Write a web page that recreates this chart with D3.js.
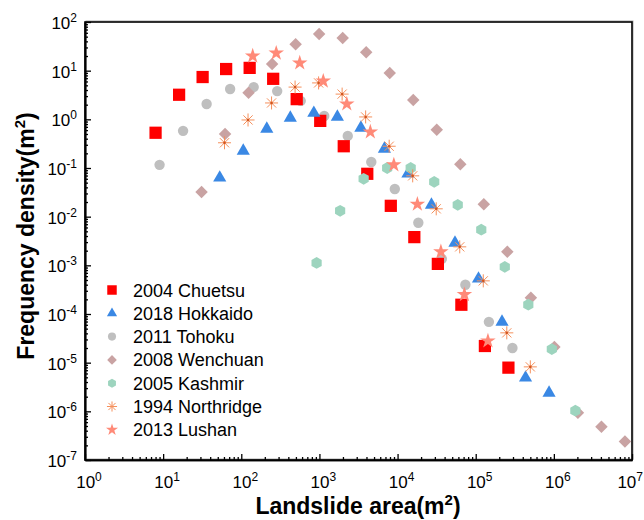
<!DOCTYPE html>
<html>
<head>
<meta charset="utf-8">
<script src="https://cdn.jsdelivr.net/npm/d3@7"></script>
<style>
  body { margin: 0; background: #fff; }
  text { font-family: "Liberation Sans", Arial, sans-serif; }
</style>
</head>
<body>
<div id="container"></div>
<script>
/* CONSTANTS AND GLOBALS */
const width = 644, height = 520
const margin = { left: 85, right: 12, top: 22, bottom: 60 }

/* DATA */
const chuetsuX = [8, 16, 32, 64, 128, 256, 512, 1024, 2048, 4096, 8192, 16384, 32768, 65536, 131072, 262144]
const chuetsuY = [0.53, 3.2, 7.4, 10.8, 11.4, 6.8, 2.6, 0.93, 0.28, 0.076, 0.0167, 0.0038, 0.00107, 1.55e-4, 2.2e-5, 7.9e-6]

const hokkaidoX = [53, 106, 212, 424, 848, 1696, 3392, 6784, 13568, 27136, 54272, 108544, 217088, 434176, 868352]
const hokkaidoY = [0.063, 0.224, 0.635, 1.07, 1.35, 1.12, 0.665, 0.247, 0.076, 0.0175, 0.0029, 5.3e-4, 6.9e-5, 4.9e-6, 2.4e-6]

const tohokuX = [9, 18, 36, 72, 144, 288, 576, 1152, 2304, 4608, 9216, 18432, 36864, 73728, 147456, 294912]
const tohokuY = [0.116, 0.58, 2.07, 4.2, 4.6, 3.8, 2.4, 1.17, 0.456, 0.133, 0.037, 0.0075, 0.00136, 4.0e-4, 6.9e-5, 2.0e-5]

const wenchuanX = [31, 62, 124, 248, 496, 992, 1984, 3968, 7936, 15872, 31744, 63488, 126976, 253952, 507904, 1015808, 2031616, 4063232, 8126464]
const wenchuanY = [0.032, 0.50, 3.5, 13.7, 35, 57, 47, 24, 9.0, 2.5, 0.61, 0.12, 0.018, 0.0019, 2.15e-4, 2.1e-5, 9.4e-7, 4.8e-7, 2.4e-7]

const kashmirX = [920, 1840, 3680, 7360, 14720, 29440, 58880, 117760, 235520, 471040, 942080, 1884160]
const kashmirY = [0.00112, 0.0132, 0.060, 0.100, 0.100, 0.052, 0.0175, 0.0054, 9.3e-4, 1.55e-4, 1.9e-5, 1.03e-6]

const northridgeX = [61, 122, 244, 488, 976, 1952, 3904, 7808, 15616, 31232, 62464, 124928, 249856, 499712]
const northridgeY = [0.33, 0.97, 2.17, 4.6, 5.6, 3.3, 1.12, 0.28, 0.069, 0.0145, 0.0024, 4.8e-4, 4.1e-5, 8.2e-6]

const lushanX = [140, 280, 560, 1120, 2240, 4480, 8960, 17920, 35840, 71680, 143360]
const lushanY = [20, 23, 14.4, 6.1, 2.07, 0.55, 0.116, 0.018, 0.0019, 2.5e-4, 2.8e-5]

const xExponents = [0, 1, 2, 3, 4, 5, 6, 7]
const yExponents = [-7, -6, -5, -4, -3, -2, -1, 0, 1, 2]

/* CUSTOM SYMBOLS */
const symbolHexagon = {
  draw(ctx, size) {
    const r = Math.sqrt(size / (1.5 * Math.sqrt(3)))
    for (let i = 0; i < 6; i++) {
      const a = Math.PI / 6 + i * Math.PI / 3
      if (i === 0) ctx.moveTo(r * Math.cos(a), r * Math.sin(a))
      else ctx.lineTo(r * Math.cos(a), r * Math.sin(a))
    }
    ctx.closePath()
  }
}
const symbolBurst = {
  draw(ctx, size) {
    const r = Math.sqrt(size) / 2
    for (let i = 0; i < 4; i++) {
      const a = i * Math.PI / 4
      ctx.moveTo(-r * Math.cos(a), -r * Math.sin(a))
      ctx.lineTo(r * Math.cos(a), r * Math.sin(a))
    }
  }
}

// one entry per series, in drawing order
const series = [
  { name: "2011 Tohoku", xs: tohokuX, ys: tohokuY, type: d3.symbolCircle, size: 85, fill: "#bfbfbf", order: 2 },
  { name: "2008 Wenchuan", xs: wenchuanX, ys: wenchuanY, type: d3.symbolSquare, size: 78, fill: "#c9a3a3", rotate: 45, order: 3 },
  { name: "2004 Chuetsu", xs: chuetsuX, ys: chuetsuY, type: d3.symbolSquare, size: 150, fill: "#ff0000", order: 0 },
  { name: "2018 Hokkaido", xs: hokkaidoX, ys: hokkaidoY, type: d3.symbolTriangle, size: 75, fill: "#3a88e4", order: 1 },
  { name: "2005 Kashmir", xs: kashmirX, ys: kashmirY, type: symbolHexagon, size: 90, fill: "#9dd4be", order: 4 },
  { name: "1994 Northridge", xs: northridgeX, ys: northridgeY, type: symbolBurst, size: 170, stroke: "#f5905c", order: 5 },
  { name: "2013 Lushan", xs: lushanX, ys: lushanY, type: d3.symbolStar, size: 75, fill: "#ff8a78", order: 6 }
]

/* SCALES */
const xScale = d3.scaleLog()
  .domain([1, 1e7])
  .range([margin.left, width - margin.right])

const yScale = d3.scaleLog()
  .domain([1e-7, 1e2])
  .range([height - margin.bottom, margin.top])

/* SVG */
const svg = d3.select("#container")
  .append("svg")
  .attr("width", width)
  .attr("height", height)

// plot frame (with the faint shadow on the right / top)
svg.append("rect")
  .attr("x", margin.left + 1)
  .attr("y", margin.top - 1)
  .attr("width", width - margin.right - margin.left)
  .attr("height", height - margin.bottom - margin.top)
  .attr("fill", "none")
  .attr("stroke", "#aaa")
  .attr("stroke-width", 1)
svg.append("rect")
  .attr("x", margin.left)
  .attr("y", margin.top)
  .attr("width", width - margin.right - margin.left)
  .attr("height", height - margin.bottom - margin.top)
  .attr("fill", "none")
  .attr("stroke", "#000")
  .attr("stroke-width", 1.6)

/* AXES: minor + major ticks, pointing inwards */
const xMajor = xExponents.map(e => Math.pow(10, e))
const yMajor = yExponents.map(e => Math.pow(10, e))
const xMinor = xScale.ticks().filter(v => !xMajor.includes(v))
const yMinor = yScale.ticks().filter(v => !yMajor.some(m => Math.abs(m - v) / m < 1e-9))

function styleAxis(g) {
  g.select(".domain").attr("stroke", "#000").attr("stroke-width", 1.6)
  g.selectAll(".tick line").attr("stroke", "#000").attr("stroke-width", 1.3)
}

svg.append("g")
  .attr("transform", `translate(0, ${height - margin.bottom})`)
  .call(d3.axisBottom(xScale).tickValues(xMinor).tickSize(-3).tickSizeOuter(0).tickFormat(""))
  .call(styleAxis)
svg.append("g")
  .attr("transform", `translate(0, ${height - margin.bottom})`)
  .call(d3.axisBottom(xScale).tickValues(xMajor).tickSize(-6).tickSizeOuter(0).tickFormat(""))
  .call(styleAxis)

svg.append("g")
  .attr("transform", `translate(${margin.left}, 0)`)
  .call(d3.axisLeft(yScale).tickValues(yMinor).tickSize(-3).tickSizeOuter(0).tickFormat(""))
  .call(styleAxis)
svg.append("g")
  .attr("transform", `translate(${margin.left}, 0)`)
  .call(d3.axisLeft(yScale).tickValues(yMajor).tickSize(-6).tickSizeOuter(0).tickFormat(""))
  .call(styleAxis)

// power-of-ten tick labels
function powerLabel(sel, e) {
  sel.append("tspan").text("10")
  sel.append("tspan").attr("dy", -7).attr("font-size", 12).text(e < 0 ? "-" + (-e) : e)
}

svg.selectAll(".xlab")
  .data(xExponents)
  .join("text")
  .attr("class", "xlab")
  .attr("x", d => d === 7 ? width - 1 : xScale(Math.pow(10, d)) + 4)
  .attr("y", height - margin.bottom + 28)
  .attr("text-anchor", d => d === 7 ? "end" : "middle")
  .attr("font-size", 17)
  .each(function (d) { powerLabel(d3.select(this), d) })

svg.selectAll(".ylab")
  .data(yExponents)
  .join("text")
  .attr("class", "ylab")
  .attr("x", margin.left - 8)
  .attr("y", d => yScale(Math.pow(10, d)) + 7)
  .attr("text-anchor", "end")
  .attr("font-size", 17)
  .each(function (d) { powerLabel(d3.select(this), d) })

// axis titles
const xTitle = svg.append("text")
  .attr("x", 358)
  .attr("y", 514)
  .attr("text-anchor", "middle")
  .attr("font-size", 23)
  .attr("font-weight", "bold")
xTitle.append("tspan").text("Landslide area(m")
xTitle.append("tspan").attr("dy", -9).attr("font-size", 15).text("2")
xTitle.append("tspan").attr("dy", 9).text(")")

const yTitle = svg.append("text")
  .attr("transform", "translate(34, 236) rotate(-90)")
  .attr("text-anchor", "middle")
  .attr("font-size", 23)
  .attr("font-weight", "bold")
yTitle.append("tspan").text("Frequency density(m")
yTitle.append("tspan").attr("dy", -9).attr("font-size", 15).text("2")
yTitle.append("tspan").attr("dy", 9).text(")")

/* POINTS */
function drawMarker(sel, s, scale) {
  sel.attr("d", d3.symbol().type(s.type).size(s.size * scale))
    .attr("fill", s.fill || "none")
    .attr("stroke", s.stroke || "none")
    .attr("stroke-width", s.stroke ? 1 : 0)
}

series.forEach((s, i) => {
  const pts = s.xs.map((x, j) => ({ x, y: s.ys[j] }))
  const g = svg.append("g").attr("class", "series-" + i)
  g.selectAll("path")
    .data(pts)
    .join("path")
    .attr("transform", d => `translate(${xScale(d.x)}, ${yScale(d.y)}) rotate(${s.rotate || 0})`)
    .call(sel => drawMarker(sel, s, 1))
  if (s.stroke) {
    g.selectAll("circle")
      .data(pts)
      .join("circle")
      .attr("cx", d => xScale(d.x))
      .attr("cy", d => yScale(d.y))
      .attr("r", 1.3)
      .attr("fill", "#d2551e")
  }
})

/* LEGEND */
const legendSeries = series.slice().sort((a, b) => a.order - b.order)
const legend = svg.append("g").attr("transform", "translate(112, 290)")

legendSeries.forEach((s, i) => {
  const row = legend.append("g").attr("transform", `translate(0, ${i * 23.3})`)
  row.append("path")
    .attr("transform", `rotate(${s.rotate || 0})`)
    .call(sel => drawMarker(sel, s, 0.6))
  row.append("text")
    .attr("x", 21)
    .attr("y", 6.5)
    .attr("font-size", 18)
    .text(s.name)
})
</script>
</body>
</html>
